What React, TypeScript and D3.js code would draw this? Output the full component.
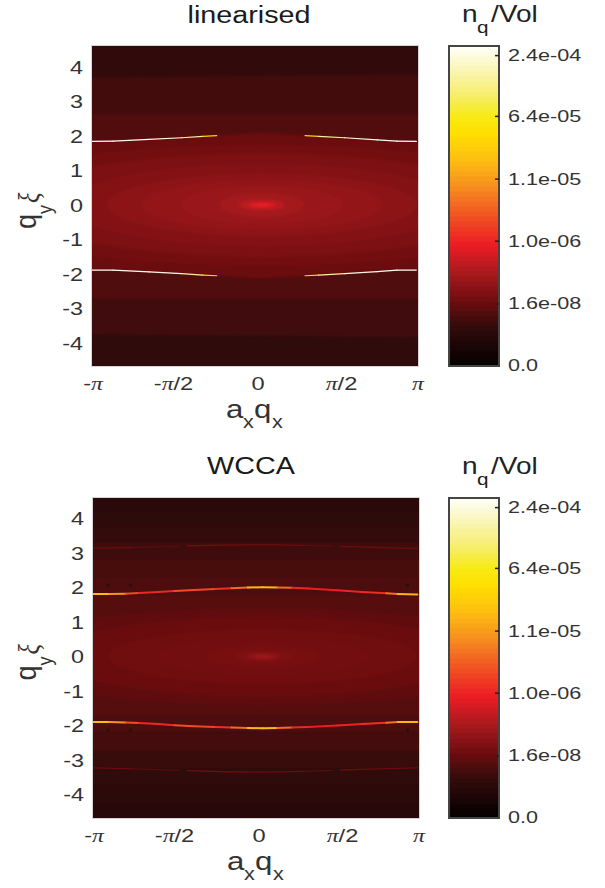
import React from "react";
import * as d3 from "d3";

const colorStopT = [0, 0.06, 0.12, 0.16, 0.2, 0.3, 0.38, 0.5, 0.57, 0.65, 0.73, 0.78, 0.85, 0.93, 1];
const colorStopC = ["#040000", "#1a0505", "#300b0b", "#4d0d0e", "#6b0c0e", "#ad1b1f", "#ec1c24", "#f26522", "#f7941e", "#fdc010", "#ffdf00", "#f7ea14", "#f6ee6e", "#faf6b8", "#fffffa"];

const xTickValues = [-1, -0.5, 0, 0.5, 1];
const xTickLabels = ["-π", "-π/2", "0", "π/2", "π"];
const yTickValues = [4, 3, 2, 1, 0, -1, -2, -3, -4];
const cbarTickT = [0.97, 0.78, 0.584, 0.39, 0.194, 0.003];
const cbarTickLabels = ["2.4e-04", "6.4e-05", "1.1e-05", "1.0e-06", "1.6e-08", "0.0"];

const linBandTopL = [4.8, 3.69, 2.65, -1.7, -2.73, -3.75];
const linBandTopR = [4.8, 3.8, 2.65, -1.7, -2.73, -3.85];
const linBandBotL = [3.69, 2.65, 1.7, -2.73, -3.75, -4.9];
const linBandBotR = [3.8, 2.65, 1.7, -2.73, -3.85, -4.9];
const linBandLevel = [0.122, 0.145, 0.165, 0.163, 0.143, 0.117];

const lensX = [-1.02, -0.87, -0.6, -0.235, 0.04, 0.307, 0.6, 0.87, 1.02];
const linLensUp = [1.845, 1.85, 1.92, 2.01, 2.09, 2.01, 1.92, 1.85, 1.845];
const linLensLo = [-1.885, -1.89, -1.96, -2.05, -2.13, -2.05, -1.96, -1.89, -1.885];
const linLensLevel = 0.2;

const linEllRx = [1.95, 1.55, 1.2, 0.95, 0.74, 0.5, 0.26, 0.14, 0.08, 0.04];
const linEllRy = [1.75, 1.5, 1.2, 0.9, 0.72, 0.55, 0.36, 0.17, 0.08, 0.04];
const linEllLevel = [0.212, 0.225, 0.238, 0.25, 0.26, 0.27, 0.285, 0.315, 0.36, 0.385];

const linLineQx = [-1, -0.87, -0.65, -0.45, -0.32, -0.235];
const linLineUp = [1.845, 1.85, 1.9, 1.95, 1.99, 2.01];
const linLineLo = [-1.885, -1.89, -1.94, -1.99, -2.03, -2.05];
const linLineLevel = [1, 1, 0.98, 0.96, 0.85, 0.55];
const linLineQxR = [0.307, 0.39, 0.55, 0.75, 0.87, 0.99];
const linLineUpR = [2.01, 1.99, 1.95, 1.89, 1.85, 1.845];
const linLineLoR = [-2.05, -2.03, -1.99, -1.93, -1.89, -1.885];
const linLineLevelR = [0.55, 0.85, 0.96, 0.98, 1, 1];

const wcBandTop = [4.8, 4.2, 3.75, 3.3, 2.8, 2.3, 1.75, -1.7, -2.2, -2.75, -3.25, -3.75, -4.25];
const wcBandBot = [4.2, 3.75, 3.3, 2.8, 2.3, 1.7, -1.7, -2.2, -2.75, -3.25, -3.75, -4.25, -4.9];
const wcBandLevel = [0.1, 0.115, 0.125, 0.14, 0.152, 0.16, 0.172, 0.158, 0.148, 0.133, 0.118, 0.11, 0.095];

const wcEllRx = [1.7, 1.3, 0.95, 0.65, 0.35, 0.18, 0.1, 0.055];
const wcEllRy = [1.4, 1.15, 0.8, 0.55, 0.3, 0.17, 0.1, 0.06];
const wcEllLevel = [0.185, 0.198, 0.208, 0.212, 0.218, 0.228, 0.255, 0.272];

const wcLineQx = [-1, -0.9, -0.8, -0.72, -0.6, -0.5, -0.38, -0.25, -0.15, -0.05, 0.04, 0.13, 0.22, 0.32, 0.5, 0.65, 0.8, 0.87, 0.99];
const wcLineUp = [1.81, 1.81, 1.82, 1.84, 1.87, 1.9, 1.93, 1.96, 1.98, 2.0, 2.01, 2.0, 1.99, 1.97, 1.92, 1.87, 1.83, 1.81, 1.8];
const wcLineLo = [-1.9, -1.9, -1.91, -1.93, -1.96, -1.99, -2.02, -2.04, -2.06, -2.07, -2.08, -2.07, -2.06, -2.04, -2.0, -1.96, -1.92, -1.9, -1.9];
const wcLineLevel = [0.64, 0.64, 0.5, 0.42, 0.38, 0.42, 0.5, 0.4, 0.42, 0.6, 0.68, 0.6, 0.42, 0.38, 0.38, 0.4, 0.42, 0.62, 0.64];

const wcFaintQx = [-1, -0.75, -0.47, -0.42, -0.2, 0.04, 0.3, 0.47, 0.52, 0.75, 0.99];
const wcFaintUp = [3.14, 3.16, 3.2, 3.21, 3.23, 3.24, 3.22, 3.2, 3.19, 3.16, 3.13];
const wcFaintLo = [-3.23, -3.26, -3.3, -3.31, -3.34, -3.35, -3.33, -3.3, -3.29, -3.26, -3.23];
const wcFaintLevel = [0.2, 0.2, 0.14, 0.21, 0.21, 0.2, 0.21, 0.14, 0.2, 0.2, 0.2];

const wcDotQx = [-0.91, -0.77, 0.93];
const wcDotUp = [2.07, 2.07, 2.07];
const wcDotLo = [-2.13, -2.13, -2.13];

const color = d3.scaleLinear<string>().domain(colorStopT).range(colorStopC).interpolate(d3.interpolateRgb);
const PLOT_W = 326;
const PLOT_H = 320;
const FONT = "'Liberation Sans', Arial, sans-serif";
const SX = 1.27;

function Txt({ x, y, size, anchor = "middle", fill = "#222", rot = 0, sx = SX, children }: any) {
  return (
    <text
      transform={`translate(${x},${y}) scale(${sx},1)${rot ? ` rotate(${rot})` : ""}`}
      fontFamily={FONT}
      fontSize={size}
      textAnchor={anchor}
      fill={fill}
    >
      {children}
    </text>
  );
}

function Segs({ xs, ys, levels, w, xScale, yScale, gapBelow = -1 }: any) {
  const line = d3.line<number>().x((d) => xScale(xs[d])).y((d) => yScale(ys[d]));
  return (
    <g strokeLinecap="round" fill="none">
      {xs.slice(1).map((_: number, i: number) =>
        levels[i] <= gapBelow ? null : (
          <path key={i} d={line([i, i + 1]) as string} stroke={color((levels[i] + levels[i + 1]) / 2)} strokeWidth={w} />
        )
      )}
    </g>
  );
}

function Axes({ xScale, yScale, title, titleY, titleDx }: any) {
  const x0 = xScale.range()[0];
  const y0 = yScale.range()[1];
  const xAxisY = y0 + 24;
  const base = y0 + 52;
  const mid = x0 + 163;
  return (
    <g>
      <Txt x={mid + titleDx} y={titleY} size={23} fill="#1a1a1a" sx={1.25}>{title}</Txt>
      {xTickValues.map((v, i) => (
        <Txt key={v} x={xScale(v) + [1, 0, 3, 5, 0][i]} y={xAxisY} size={18.5} sx={1.28} fill="#333">
          {xTickLabels[i].split("").map((c: string, k: number) =>
            c === "π" ? <tspan key={k} fontFamily="'Liberation Serif', serif" fontStyle="italic">π</tspan> : <tspan key={k}>{c}</tspan>
          )}
        </Txt>
      ))}
      {yTickValues.map((v) => (
        <Txt key={v} x={x0 - 9} y={yScale(v) + 6.5} size={18} anchor="end" fill="#333" sx={1.3}>{v}</Txt>
      ))}
      <Txt x={x0 + 134} y={base} size={26} anchor="start" fill="#333" sx={1.2}>a</Txt>
      <Txt x={x0 + 151} y={base + 10} size={18} anchor="start" fill="#333" sx={1.2}>x</Txt>
      <Txt x={x0 + 162} y={base} size={26} anchor="start" fill="#333" sx={1.2}>q</Txt>
      <Txt x={x0 + 180} y={base + 10} size={18} anchor="start" fill="#333" sx={1.2}>x</Txt>
      <Txt x={36} y={yScale(0) + 24} size={27} anchor="start" rot={-90} fill="#333" sx={1.1}>q</Txt>
      <Txt x={52} y={yScale(0) + 9} size={18} anchor="start" rot={-90} fill="#333" sx={1.1}>y</Txt>
      <text transform={`translate(39,${yScale(0) - 2}) scale(1.2,1) rotate(-90)`} fontFamily="'Liberation Serif', serif" fontStyle="italic" fontSize={24} fill="#333">ξ</text>
    </g>
  );
}

function ColorBar({ y0 }: { y0: number }) {
  const x0 = 449;
  const w = 50;
  const y = d3.scaleLinear().domain([0, 1]).range([y0 + PLOT_H, y0]);
  const steps = d3.range(0, 64).map((d) => d / 64);
  return (
    <g>
      {steps.map((t) => (
        <rect key={t} x={x0} width={w} y={y(t + 1 / 64)} height={PLOT_H / 64 + 0.6} fill={color(t + 1 / 128)} />
      ))}
      <rect x={x0} y={y0} width={w} height={PLOT_H} fill="none" stroke="#454545" strokeWidth={2} />
      {cbarTickT.map((t, i) => (
        <g key={t}>
          {i < 5 && <line x1={x0 + w - 4} x2={x0 + w} y1={y(t)} y2={y(t)} stroke="#222" strokeWidth={1.5} />}
          <Txt x={508} y={y(t) + 5.5} size={16} anchor="start" fill="#333" sx={1.35}>{cbarTickLabels[i]}</Txt>
        </g>
      ))}
      <Txt x={462} y={y0 - 24} size={23} anchor="start" fill="#222" sx={1.22}>n</Txt>
      <Txt x={477} y={y0 - 13} size={17} anchor="start" fill="#222" sx={1.22}>q</Txt>
      <Txt x={491} y={y0 - 24} size={23} anchor="start" fill="#222" sx={1.22}>/Vol</Txt>
    </g>
  );
}

function Linear({ xS, yS, id }: any) {
  const lens = d3.area<number>().x((d) => xS(lensX[d])).y0((d) => yS(linLensLo[d])).y1((d) => yS(linLensUp[d]));
  const idx = d3.range(lensX.length);
  const band = (i: number) =>
    d3.area<number>().x((d) => xS(d)).y0((d) => yS(d < 0 ? linBandBotL[i] : linBandBotR[i])).y1((d) => yS(d < 0 ? linBandTopL[i] : linBandTopR[i]))([-1.1, 1.1]) as string;
  const pxX = xS(1) - xS(0);
  const pxY = yS(0) - yS(1);
  return (
    <g>
      {linBandLevel.map((l, i) => <path key={i} d={band(i)} fill={color(l)} />)}
      <path d={lens(idx) as string} fill={color(linLensLevel)} />
      <clipPath id={`lens-${id}`}><path d={lens(idx) as string} /></clipPath>
      <g clipPath={`url(#lens-${id})`}>
        {linEllLevel.map((l, i) => (
          <ellipse key={i} cx={xS(0.043)} cy={yS(0)} rx={linEllRx[i] * pxX} ry={linEllRy[i] * pxY} fill={color(l)} />
        ))}
      </g>
    </g>
  );
}

function Wcca({ xS, yS }: any) {
  const pxX = xS(1) - xS(0);
  const pxY = yS(0) - yS(1);
  return (
    <g>
      {wcBandLevel.map((l, i) => (
        <rect key={i} x={xS(-1.1)} width={PLOT_W * 1.1} y={yS(wcBandTop[i])} height={yS(wcBandBot[i]) - yS(wcBandTop[i])} fill={color(l)} />
      ))}
      {wcEllLevel.map((l, i) => (
        <ellipse key={i} cx={xS(0.043)} cy={yS(0)} rx={wcEllRx[i] * pxX} ry={wcEllRy[i] * pxY} fill={color(l)} />
      ))}
    </g>
  );
}

function Panel({ x0, y0, zero, title, titleY, titleDx, id }: any) {
  const xS = d3.scaleLinear().domain([-1, 1]).range([x0, x0 + PLOT_W]);
  const yS = d3.scaleLinear().domain([(zero - y0) / 34.5, (zero - y0 - PLOT_H) / 34.5]).range([y0, y0 + PLOT_H]);
  return (
    <g>
      <clipPath id={`clip-${id}`}><rect x={x0} y={y0} width={PLOT_W} height={PLOT_H} /></clipPath>
      <g clipPath={`url(#clip-${id})`}>
        <rect x={x0} y={y0} width={PLOT_W} height={PLOT_H} fill={color(0.12)} />
        <g filter="url(#soft)">
          {id === "a" ? <Linear xS={xS} yS={yS} id={id} /> : <Wcca xS={xS} yS={yS} />}
        </g>
        {id === "a" ? (
          <g filter="url(#tiny)">
            <Segs xs={linLineQx} ys={linLineUp} levels={linLineLevel} w={1.2} xScale={xS} yScale={yS} />
            <Segs xs={linLineQx} ys={linLineLo} levels={linLineLevel} w={1.2} xScale={xS} yScale={yS} />
            <Segs xs={linLineQxR} ys={linLineUpR} levels={linLineLevelR} w={1.2} xScale={xS} yScale={yS} />
            <Segs xs={linLineQxR} ys={linLineLoR} levels={linLineLevelR} w={1.2} xScale={xS} yScale={yS} />
          </g>
        ) : (
          <g filter="url(#tiny)">
            <Segs xs={wcFaintQx} ys={wcFaintUp} levels={wcFaintLevel} w={1.3} xScale={xS} yScale={yS} gapBelow={0.15} />
            <Segs xs={wcFaintQx} ys={wcFaintLo} levels={wcFaintLevel} w={1.3} xScale={xS} yScale={yS} gapBelow={0.15} />
            <Segs xs={wcLineQx} ys={wcLineUp} levels={wcLineLevel} w={2} xScale={xS} yScale={yS} />
            <Segs xs={wcLineQx} ys={wcLineLo} levels={wcLineLevel} w={2} xScale={xS} yScale={yS} />
            {wcDotQx.map((q, i) => (
              <g key={q} fill="#241010">
                <circle cx={xS(q)} cy={yS(wcDotUp[i])} r={1.6} />
                <circle cx={xS(q)} cy={yS(wcDotLo[i])} r={1.6} />
              </g>
            ))}
          </g>
        )}
      </g>
      <rect x={x0 - 0.5} y={y0 - 0.5} width={PLOT_W + 1} height={PLOT_H + 1} fill="none" stroke="#d4d4d4" strokeWidth={1} />
      <Axes xScale={xS} yScale={yS} title={title} titleY={titleY} titleDx={titleDx} />
    </g>
  );
}

export default function App() {
  return (
    <svg width={605} height={888} style={{ position: "absolute", left: 0, top: 0, background: "#fff" }}>
      <defs>
        <filter id="soft" x="-5%" y="-5%" width="110%" height="110%" colorInterpolationFilters="sRGB"><feGaussianBlur stdDeviation="1.2" /></filter>
        <filter id="tiny" x="-5%" y="-5%" width="110%" height="110%" colorInterpolationFilters="sRGB"><feGaussianBlur stdDeviation="0.35" /></filter>
      </defs>
      <Panel x0={92} y0={46} zero={205} title="linearised" titleY={23} titleDx={-6} id="a" />
      <Panel x0={93} y0={498} zero={656.5} title="WCCA" titleY={474} titleDx={-5} id="b" />
      <ColorBar y0={46} />
      <ColorBar y0={498} />
    </svg>
  );
}
